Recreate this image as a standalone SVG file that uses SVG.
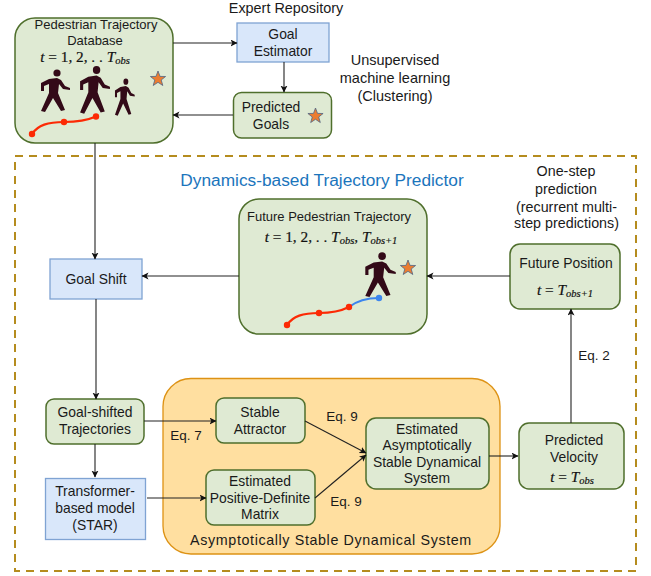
<svg xmlns="http://www.w3.org/2000/svg" width="651" height="576" viewBox="0 0 651 576">
<style>
text{font-family:"Liberation Sans",Arial,sans-serif;font-size:13.900px;fill:#1a1a1a;text-anchor:middle}
.n{font-size:13px}
.m{font-family:"Liberation Serif","Times New Roman",serif;font-size:15.300px;fill:#111;stroke:#111;stroke-width:.2}
.i{font-style:italic}
.s{font-size:10.500px;font-style:italic}
.g{fill:#dfead3;stroke:#4f6f2c;stroke-width:1.500}
.b{fill:#d9e7fa;stroke:#7fa3d3;stroke-width:1.300}
.c{fill:none;stroke:#222;stroke-width:1.100;marker-end:url(#a)}
.star{fill:#ec7d31;stroke:#4f6584;stroke-width:.8}
.sil{fill:#330a18}
.r{fill:none;stroke:#fc2a05;stroke-width:2.200}
.rd{fill:#fc2a05}
.e{font-size:13.500px}
.l{font-size:14.500px}
.o{font-size:14.300px}
</style>
<defs>
<marker id="a" markerWidth="8" markerHeight="8" refX="6.500" refY="3.500" orient="auto" markerUnits="userSpaceOnUse"><path d="M0 0L7 3.500L0 7L1.800 3.500Z" fill="#111"/></marker>
<polygon id="st" points="0,-8 2,-2.600 7.600,-2.500 3.200,1 4.800,6.500 0,3.300 -4.800,6.500 -3.200,1 -7.600,-2.500 -2,-2.600"/>
<g id="p"><circle cx="2" cy="-17" r="3.600"/><path d="M-14 1L-14 -7L-6 -11L2 -12L6 -10L10 -4L15 -2L15 0L8 -1L4 -6L3 3L10 20L6 21L-2 8L-10 22L-14 21L-6 3L-6 -6L-11 -4L-11 1Z"/></g>
</defs>
<rect width="651" height="576" fill="#fff"/>
<rect x="15" y="156" width="621" height="415" fill="none" stroke="#b58c1e" stroke-width="2" stroke-dasharray="8 6"/>
<g id="database">
<rect class="g" x="15" y="18" width="158" height="125" rx="20"/>
<text class="n" x="96" y="29">Pedestrian Trajectory</text>
<text class="n" x="95" y="45">Database</text>
<text class="m" x="85" y="62"><tspan class="i">t</tspan> = 1, 2, . . <tspan class="i">T</tspan><tspan class="s" dy="2">obs</tspan></text>
<use href="#st" class="star" x="158" y="79"/>
<use href="#p" class="sil" x="55" y="90"/>
<use href="#p" class="sil" transform="translate(94.500 89) scale(1.030 1.120)"/>
<use href="#p" class="sil" transform="translate(124.500 96.500) scale(.68 .87)"/>
<path class="r" d="M32 134C38 125 48 122 64 122C76 122 88 120 96 116.500"/>
<circle class="rd" cx="32" cy="134" r="3.200"/><circle class="rd" cx="64" cy="122" r="3.200"/><circle class="rd" cx="96" cy="116.500" r="3.200"/>
</g>
<text x="286" y="13" style="font-size:14.400px">Expert Repository</text>
<g id="goal-estimator"><rect class="b" x="237" y="23" width="92" height="39"/>
<text x="283" y="39">Goal</text><text x="283" y="56">Estimator</text></g>
<g id="predicted-goals"><rect class="g" x="233.500" y="92.500" width="98" height="45.500" rx="8"/>
<text x="271" y="112">Predicted</text><text x="271" y="129">Goals</text>
<use href="#st" class="star" x="315.500" y="116"/></g>
<text class="l" x="395" y="65">Unsupervised</text><text class="l" x="395" y="83">machine learning</text><text class="l" x="395" y="101">(Clustering)</text>
<text x="322" y="186" style="font-size:17.300px;fill:#1b75bc">Dynamics-based Trajectory Predictor</text>
<g id="future-trajectory"><rect class="g" x="239" y="199" width="188" height="135" rx="20"/>
<text class="n" x="329" y="221">Future Pedestrian Trajectory</text>
<text class="m" x="331" y="242"><tspan class="i">t</tspan> = 1, 2, . . <tspan class="i">T</tspan><tspan class="s" dy="2">obs</tspan><tspan dy="-2">, </tspan><tspan class="i">T</tspan><tspan class="s" dy="2">obs+1</tspan></text>
<use href="#st" class="star" x="408" y="268"/>
<use href="#p" class="sil" transform="translate(380 274) scale(1.050)"/>
<path class="r" d="M287 325C293 316 303 313 319 313C331 313 341 311 349 307"/>
<path fill="none" stroke="#3d86ee" stroke-width="2.200" d="M349 307C358 300 368 298 379 298"/>
<circle class="rd" cx="287" cy="325" r="3.200"/><circle class="rd" cx="319" cy="313" r="3.200"/><circle class="rd" cx="349" cy="307" r="3.200"/><circle cx="379" cy="298" r="3.200" fill="#3d86ee"/></g>
<text class="o" x="566" y="176">One-step</text><text class="o" x="566" y="194">prediction</text><text class="o" x="566.500" y="212">(recurrent multi-</text><text class="o" x="566.500" y="228">step predictions)</text>
<g id="future-position"><rect class="g" x="510" y="244" width="110" height="65" rx="10"/>
<text x="566" y="268">Future Position</text><text class="m" x="565" y="295"><tspan class="i">t</tspan> = <tspan class="i">T</tspan><tspan class="s" dy="2">obs+1</tspan></text></g>
<text class="e" x="594" y="360">Eq. 2</text>
<g id="goal-shift"><rect class="b" x="50" y="259" width="92" height="40"/><text x="96" y="284">Goal Shift</text></g>
<g id="goal-shifted"><rect class="g" x="46" y="399" width="98" height="45" rx="8"/>
<text x="95" y="417">Goal-shifted</text><text x="95" y="434">Trajectories</text></g>
<g id="transformer"><rect class="b" x="45.500" y="478.500" width="100" height="61"/>
<text x="95" y="496">Transformer-</text><text x="95" y="513">based model</text><text x="95" y="530">(STAR)</text></g>
<g id="asds-group"><rect x="163" y="378.500" width="337" height="175.500" rx="28" fill="#ffdfa0" stroke="#dd9214" stroke-width="1.300"/>
<text x="331" y="545" style="font-size:14.300px;letter-spacing:.62px">Asymptotically Stable Dynamical System</text></g>
<text class="e" x="186" y="440">Eq. 7</text>
<g id="stable-attractor"><rect class="g" x="216" y="398" width="89" height="45" rx="8"/>
<text x="260" y="417">Stable</text><text x="260" y="434">Attractor</text></g>
<g id="pd-matrix"><rect class="g" x="206" y="470" width="109" height="55" rx="8"/>
<text x="260" y="486">Estimated</text><text x="260" y="503">Positive-Definite</text><text x="260" y="519">Matrix</text></g>
<g id="asds"><rect class="g" x="366" y="418" width="123" height="71" rx="10"/>
<text x="427" y="434">Estimated</text><text x="427" y="450">Asymptotically</text><text x="427" y="467">Stable Dynamical</text><text x="427" y="483">System</text></g>
<text class="e" x="342" y="421">Eq. 9</text><text class="e" x="346" y="506">Eq. 9</text>
<g id="predicted-velocity"><rect class="g" x="519" y="423" width="105" height="66" rx="10"/>
<text x="574" y="445">Predicted</text><text x="574" y="462">Velocity</text><text class="m" x="572" y="482"><tspan class="i">t</tspan> = <tspan class="i">T</tspan><tspan class="s" dy="2">obs</tspan></text></g>
<g id="connectors">
<path class="c" d="M173 43H237"/>
<path class="c" d="M284 62V92"/>
<path class="c" d="M233 115H173"/>
<path class="c" d="M95 143V259"/>
<path class="c" d="M96 299V399"/>
<path class="c" d="M95 444V477"/>
<path class="c" d="M144 421H216"/>
<path class="c" d="M147 498H206"/>
<path class="c" d="M305 421L366 453"/>
<path class="c" d="M315 498L366 455"/>
<path class="c" d="M489 456H518"/>
<path class="c" d="M571 423V309"/>
<path class="c" d="M510 276H427"/>
<path class="c" d="M239 276H142"/>
</g>
</svg>
